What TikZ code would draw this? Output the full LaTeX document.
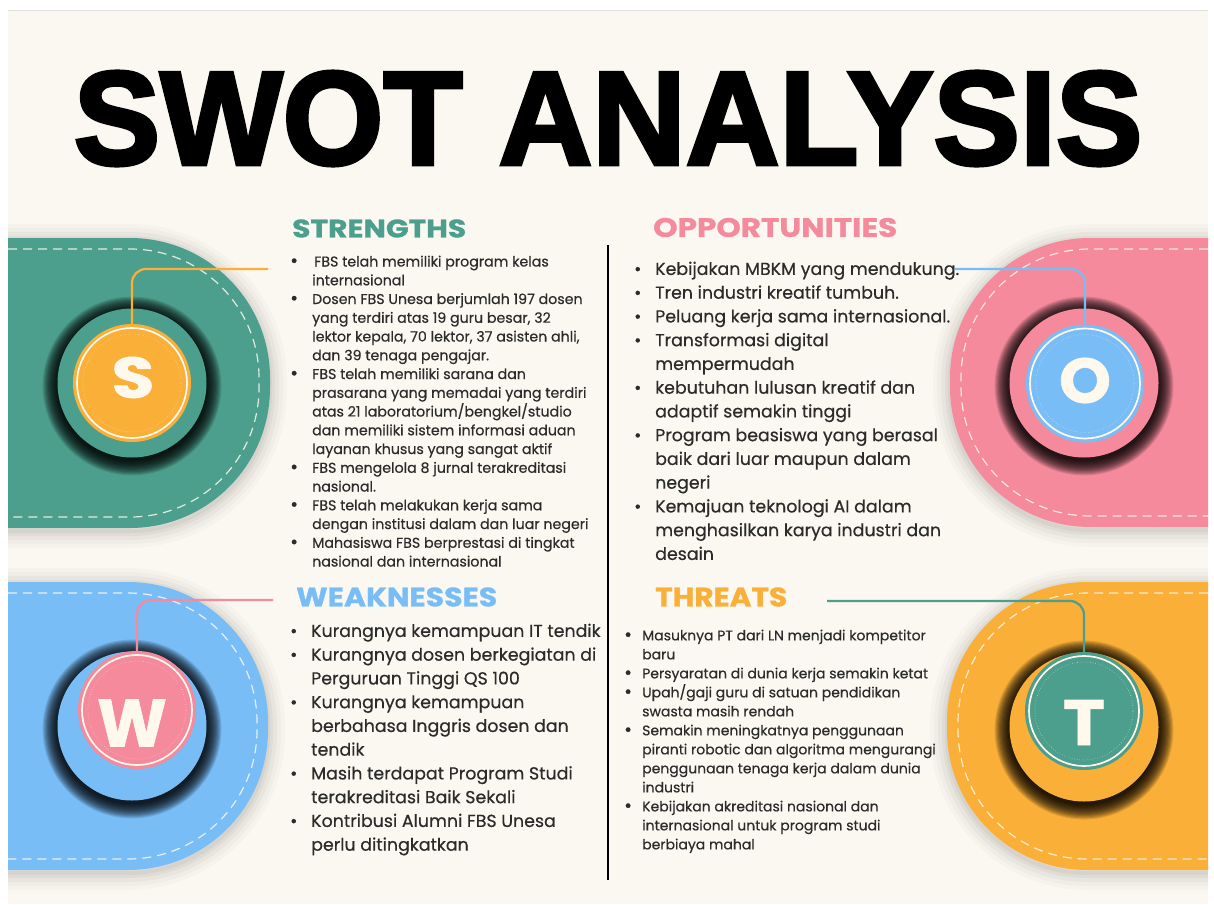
\documentclass[tikz,border=0pt]{standalone}
\usepackage{fontspec}
\usepackage{graphicx}
\setmainfont{Poppins}[FakeBold=0.4]
\newfontfamily\titlefont{Liberation Sans}[FakeBold=2.8]
\newfontfamily\headfont{Poppins}[FakeBold=1]
\definecolor{swTeal}{HTML}{4C9F8D}
\definecolor{swOrange}{HTML}{F9AF38}
\definecolor{swPink}{HTML}{F48A9C}
\definecolor{swBlue}{HTML}{79BDF7}
\definecolor{swBg}{HTML}{FBF8F1}
\definecolor{swLight}{HTML}{FFF8EC}
\definecolor{swText}{HTML}{2B2B2B}
\newcommand\swb[1]{\makebox[#1][l]{\textbullet}}
\newcommand\swbs[1]{\makebox[#1][l]{\raisebox{-0.6pt}{\scalebox{1.35}{\textbullet}}}}
\newcommand\swc[1]{\hspace*{#1}}
% tab: #1 flat x, #2 round x, #3 top, #4 bottom, #5 colour, #6 inner round x
\newcommand\swtab[6]{%
  \foreach \w/\o in {34/0.02, 26/0.025, 18/0.03, 10/0.035, 4/0.04}{%
    \draw[black, opacity=\o, line width=\w pt, rounded corners=140pt, yshift=-3pt]
      (#1,#3) -- (#2,#3) -- (#2,#4) -- (#1,#4);}%
  \fill[#5, rounded corners=140pt] (#1,#3) -- (#2,#3) -- (#2,#4) -- (#1,#4);
  \draw[swLight, opacity=0.85, line width=1.2pt, dash pattern=on 9pt off 6pt, rounded corners=129pt]
      (#1,#3+11) -- (#6,#3+11) -- (#6,#4-11) -- (#1,#4-11);
}
\newcommand\swglow[1]{%
  \foreach \k in {1,...,14}{\fill[black, opacity=0.12] (#1) circle[radius=74pt+\k*1.1pt];}}
\tikzset{
  outerc/.style={circle, inner sep=0pt, minimum size=149pt},
  innerc/.style={circle, inner sep=0pt, minimum size=118pt},
  ringc/.style={swLight, line width=1.7pt},
  dotc/.style={swLight, opacity=0.55, line width=0.6pt, dotted},
  lettertxt/.style={inner sep=0pt, text=swLight},
  conn/.style={line width=2.2pt, rounded corners=14pt},
  heading/.style={inner sep=0pt, anchor=west},
  listsmall/.style={anchor=north west, inner sep=0pt, align=left, text=swText,
    font=\fontsize{14.2}{18.75}\selectfont},
  listbig/.style={anchor=north west, inner sep=0pt, align=left, text=swText,
    font=\fontsize{17.4}{23.75}\selectfont},
}
\begin{document}
\begin{tikzpicture}[x=1pt,y=-1pt]
\useasboundingbox (0,0) rectangle (1214,904);
\fill[white] (0,0) rectangle (1214,904);
\fill[swBg] (8,10) rectangle (1208,904);
\draw[black!12, line width=0.8pt] (8,10.4) -- (1208,10.4);

\begin{scope}
\clip (8,10) rectangle (1208,904);
% tabs
\swtab{8}{270}{238}{528}{swTeal}{259}
\swtab{1208}{950}{238}{527}{swPink}{961}
\swtab{8}{268}{582}{870}{swBlue}{257}
\swtab{1208}{947}{582}{870}{swOrange}{958}
\end{scope}

% glows
\swglow{132,386}
\swglow{1084,386}
\swglow{132,729}
\swglow{1084,730}

% circles
\node[outerc, fill=swTeal] (sOut) at (132,383) {};
\node[innerc, fill=swOrange] (sIn) at (132,383) {};
\node[outerc, fill=swPink] (oOut) at (1084,383) {};
\node[innerc, fill=swBlue] (oIn) at (1085,383.5) {};
\node[outerc, fill=swBlue] (wOut) at (132,726) {};
\node[innerc, fill=swPink] (wIn) at (137,710) {};
\node[outerc, fill=swOrange] (tOut) at (1084,727) {};
\node[innerc, fill=swTeal] (tIn) at (1084,711) {};

\foreach \c in {sIn,oIn,wIn,tIn}{
  \draw[ringc] (\c.center) circle[radius=55pt];
  \draw[dotc] (\c.center) circle[radius=49pt];
}

% letters
\node[lettertxt] (sL) at (133,377.5) {\resizebox{43pt}{41pt}{\headfont\bfseries S}};
\node[lettertxt] (oL) at (1085,380.5) {\resizebox{52pt}{45pt}{\headfont\bfseries O}};
\node[lettertxt] (wL) at (132,723) {\resizebox{70pt}{47pt}{\headfont\bfseries W}};
\node[lettertxt] (tL) at (1084,722.5) {\resizebox{42pt}{45pt}{\headfont\bfseries T}};

% connectors
\coordinate (sEnd) at (268,269);
\coordinate (oEnd) at (955,269);
\coordinate (wEnd) at (273,600);
\coordinate (tEnd) at (827,601);
\draw[conn, swOrange] (sIn.north) |- (sEnd);
\draw[conn, swBlue] (oIn.north) |- (oEnd);
\draw[conn, swPink] (wIn.north) |- (wEnd);
\draw[conn, swTeal] (tIn.north) |- (tEnd);

% title
\node[inner sep=0pt] (title) at (608,118.5) {\resizebox{1068pt}{93pt}{\titlefont\bfseries SWOT ANALYSIS}};

% headings
\node[heading, text=swTeal] (sH) at (292,228.5) {\resizebox{174pt}{18pt}{\headfont\bfseries STRENGTHS}};
\node[heading, text=swPink] (oH) at (653,227.5) {\resizebox{244pt}{19pt}{\headfont\bfseries OPPORTUNITIES}};
\node[heading, text=swBlue] (wH) at (296,597) {\resizebox{201pt}{19pt}{\headfont\bfseries WEAKNESSES}};
\node[heading, text=swOrange] (tH) at (655,597) {\resizebox{132pt}{19pt}{\headfont\bfseries THREATS}};

% divider
\draw[black, line width=2pt] (608,245) -- (608,880);

% lists
\node[listsmall] (sList) at (290,255.5) {%
\swbs{22pt}\hspace{2pt}FBS telah memiliki program kelas\\
\swc{22pt}internasional\\
\swbs{22pt}Dosen FBS Unesa berjumlah 197 dosen\\
\swc{22pt}yang terdiri atas 19 guru besar, 32\\
\swc{22pt}lektor kepala, 70 lektor, 37 asisten ahli,\\
\swc{22pt}dan 39 tenaga pengajar.\\
\swbs{22pt}FBS telah memiliki sarana dan\\
\swc{22pt}prasarana yang memadai yang terdiri\\
\swc{22pt}atas 21 laboratorium/bengkel/studio\\
\swc{22pt}dan memiliki sistem informasi aduan\\
\swc{22pt}layanan khusus yang sangat aktif\\
\swbs{22pt}FBS mengelola 8 jurnal terakreditasi\\
\swc{22pt}nasional.\\
\swbs{22pt}FBS telah melakukan kerja sama\\
\swc{22pt}dengan institusi dalam dan luar negeri\\
\swbs{22pt}Mahasiswa FBS berprestasi di tingkat\\
\swc{22pt}nasional dan internasional};

\node[listbig] (oList) at (634,261.5) {%
\swb{21pt}Kebijakan MBKM yang mendukung.\\
\swb{21pt}Tren industri kreatif tumbuh.\\
\swb{21pt}Peluang kerja sama internasional.\\
\swb{21pt}Transformasi digital\\
\swc{21pt}mempermudah\\
\swb{21pt}kebutuhan lulusan kreatif dan\\
\swc{21pt}adaptif semakin tinggi\\
\swb{21pt}Program beasiswa yang berasal\\
\swc{21pt}baik dari luar maupun dalam\\
\swc{21pt}negeri\\
\swb{21pt}Kemajuan teknologi AI dalam\\
\swc{21pt}menghasilkan karya industri dan\\
\swc{21pt}desain};

\node[listbig] (wList) at (290,623.5) {%
\swb{21pt}Kurangnya kemampuan IT tendik\\
\swb{21pt}Kurangnya dosen berkegiatan di\\
\swc{21pt}Perguruan Tinggi QS 100\\
\swb{21pt}Kurangnya kemampuan\\
\swc{21pt}berbahasa Inggris dosen dan\\
\swc{21pt}tendik\\
\swb{21pt}Masih terdapat Program Studi\\
\swc{21pt}terakreditasi Baik Sekali\\
\swb{21pt}Kontribusi Alumni FBS Unesa\\
\swc{21pt}perlu ditingkatkan};

\node[listsmall, font=\fontsize{14}{19}\selectfont] (tList) at (624,629.5) {%
\swbs{18pt}Masuknya PT dari LN menjadi kompetitor\\
\swc{18pt}baru\\
\swbs{18pt}Persyaratan di dunia kerja semakin ketat\\
\swbs{18pt}Upah/gaji guru di satuan pendidikan\\
\swc{18pt}swasta masih rendah\\
\swbs{18pt}Semakin meningkatnya penggunaan\\
\swc{18pt}piranti robotic dan algoritma mengurangi\\
\swc{18pt}penggunaan tenaga kerja dalam dunia\\
\swc{18pt}industri\\
\swbs{18pt}Kebijakan akreditasi nasional dan\\
\swc{18pt}internasional untuk program studi\\
\swc{18pt}berbiaya mahal};
\end{tikzpicture}
\end{document}
